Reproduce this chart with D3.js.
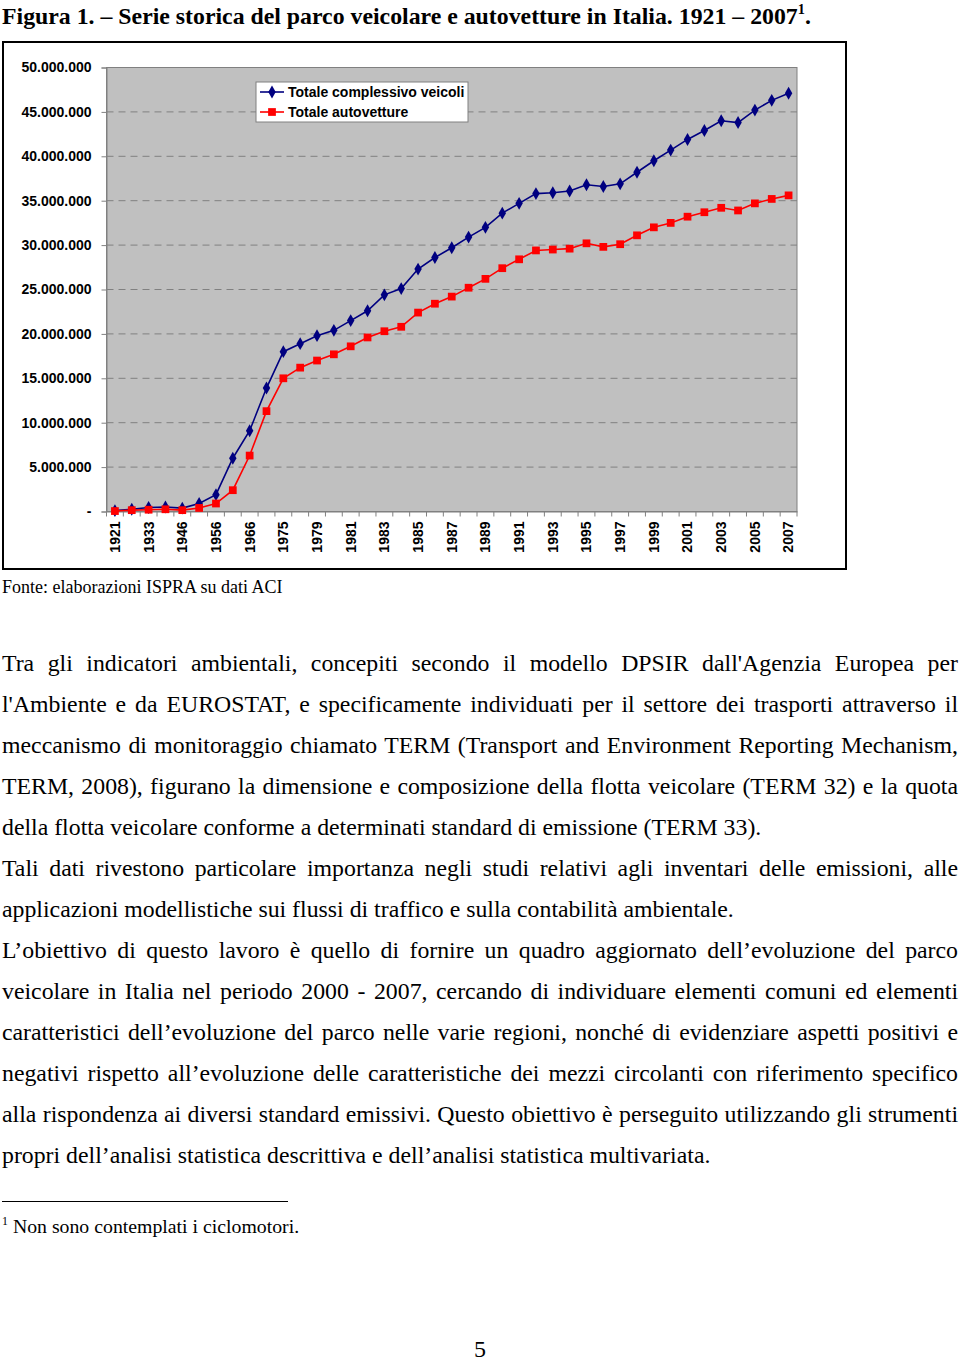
<!DOCTYPE html>
<html>
<head>
<meta charset="utf-8">
<script src="https://cdn.jsdelivr.net/npm/d3@7"></script>
<style>
body { margin: 0; background: #fff; width: 960px; height: 1360px; position: relative; overflow: hidden;
       font-family: "Liberation Serif", "Times New Roman", serif; color: #000; }
.t { position: absolute; white-space: nowrap; }
#title { left: 2px; top: 2px; font-size: 23.8px; line-height: 28px; font-weight: bold; }
#title sup, #foot sup { font-size: 60%; line-height: 0; vertical-align: 0.7em; }
#fonte { left: 2px; top: 576px; font-size: 18px; line-height: 22px; }
.line { position: absolute; left: 2px; width: 956px; font-size: 23.8px; line-height: 28px; white-space: nowrap; }
.just { text-align: justify; text-align-last: justify; white-space: normal; }
#rule { position: absolute; left: 2px; top: 1201px; width: 286px; border-top: 1px solid #000; }
#foot { left: 2px; top: 1214px; font-size: 19.8px; line-height: 24px; }
#page { left: 474px; top: 1339px; font-size: 24px; line-height: 20px; }
svg { position: absolute; left: 0; top: 0; }
svg text { font-family: "Liberation Sans", Arial, sans-serif; font-weight: bold; font-size: 14px; }
</style>
</head>
<body>
<div id="title" class="t">Figura 1. – Serie storica del parco veicolare e autovetture in Italia. 1921 – 2007<sup>1</sup>.</div>
<div id="fonte" class="t">Fonte: elaborazioni ISPRA su dati ACI</div>
<div id="rule"></div>
<div id="foot" class="t"><sup>1</sup> Non sono contemplati i ciclomotori.</div>
<div id="page" class="t">5</div>
<script>
//Data
var years = ["1921", "1927", "1933", "1939", "1946", "1951", "1956", "1961", "1966", "1970",
    "1975", "1977", "1979", "1980", "1981", "1982", "1983", "1984", "1985", "1986",
    "1987", "1988", "1989", "1990", "1991", "1992", "1993", "1994", "1995", "1996",
    "1997", "1998", "1999", "2000", "2001", "2002", "2003", "2004", "2005", "2006", "2007"];

var totaleVeicoli = [100000, 250000, 450000, 500000, 380000, 900000, 1900000, 6000000, 9100000, 13900000,
    18000000, 18900000, 19800000, 20400000, 21500000, 22600000, 24400000, 25100000, 27300000, 28600000,
    29700000, 30900000, 32000000, 33600000, 34700000, 35800000, 35900000, 36100000, 36800000, 36600000,
    36900000, 38200000, 39500000, 40700000, 41900000, 42900000, 44000000, 43800000, 45200000, 46300000, 47100000];

var totaleAuto = [50000, 150000, 200000, 250000, 150000, 400000, 900000, 2400000, 6300000, 11300000,
    15000000, 16200000, 17000000, 17700000, 18600000, 19600000, 20300000, 20800000, 22400000, 23400000,
    24200000, 25200000, 26200000, 27400000, 28400000, 29400000, 29500000, 29600000, 30200000, 29800000,
    30100000, 31100000, 32000000, 32500000, 33200000, 33700000, 34200000, 33900000, 34700000, 35200000, 35600000];

var seriesNames = ["Totale complessivo veicoli", "Totale autovetture"];
var seriesColors = ["#000080", "#ff0000"];
var yTicks = [0, 5000000, 10000000, 15000000, 20000000, 25000000, 30000000, 35000000, 40000000, 45000000, 50000000];

var paragraphLines = [
    ["Tra gli indicatori ambientali, concepiti secondo il modello DPSIR dall'Agenzia Europea per", true],
    ["l'Ambiente e da EUROSTAT, e specificamente individuati per il settore dei trasporti attraverso il", true],
    ["meccanismo di monitoraggio chiamato TERM (Transport and Environment Reporting Mechanism,", true],
    ["TERM, 2008), figurano la dimensione e composizione della flotta veicolare (TERM 32) e la quota", true],
    ["della flotta veicolare conforme a determinati standard di emissione (TERM 33).", false],
    ["Tali dati rivestono particolare importanza negli studi relativi agli inventari delle emissioni, alle", true],
    ["applicazioni modellistiche sui flussi di traffico e sulla contabilità ambientale.", false],
    ["L’obiettivo di questo lavoro è quello di fornire un quadro aggiornato dell’evoluzione del parco", true],
    ["veicolare in Italia nel periodo 2000 - 2007, cercando di individuare elementi comuni ed elementi", true],
    ["caratteristici dell’evoluzione del parco nelle varie regioni, nonché di evidenziare aspetti positivi e", true],
    ["negativi rispetto all’evoluzione delle caratteristiche dei mezzi circolanti con riferimento specifico", true],
    ["alla rispondenza ai diversi standard emissivi. Questo obiettivo è perseguito utilizzando gli strumenti", true],
    ["propri dell’analisi statistica descrittiva e dell’analisi statistica multivariata.", false]
];

//Body text
d3.select("body").selectAll("div.line")
    .data(paragraphLines)
    .enter()
    .append("div")
    .attr("class", d => d[1] ? "line just" : "line")
    .style("top", (d, i) => (649 + i * 41) + "px")
    .text(d => d[0]);

//Chart
var w = 960, h = 600;
var plotLeft = 106.5, plotRight = 797, plotTop = 67.5, plotBottom = 511.5;

var svg = d3.select("body").append("svg")
    .attr("width", w)
    .attr("height", h);

svg.append("rect")
    .attr("x", 3).attr("y", 42)
    .attr("width", 843).attr("height", 527)
    .attr("fill", "#fff")
    .attr("stroke", "#000")
    .attr("stroke-width", 2);

var xScale = d3.scaleBand()
    .domain(years)
    .range([plotLeft, plotRight]);

var yScale = d3.scaleLinear()
    .domain([0, 50000000])
    .range([plotBottom, plotTop]);

var itFormat = d3.formatLocale({decimal: ",", thousands: ".", grouping: [3], currency: ["€", ""]}).format(",.0f");

svg.append("rect")
    .attr("x", plotLeft).attr("y", plotTop)
    .attr("width", plotRight - plotLeft).attr("height", plotBottom - plotTop)
    .attr("fill", "#c0c0c0")
    .attr("stroke", "#808080");

//Gridlines
svg.selectAll("line.grid")
    .data(yTicks.slice(1, -1))
    .enter()
    .append("line")
    .attr("class", "grid")
    .attr("x1", plotLeft).attr("x2", plotRight)
    .attr("y1", d => yScale(d)).attr("y2", d => yScale(d))
    .attr("stroke", "#808080")
    .attr("stroke-dasharray", "7,5");

//Y axis
var yAxis = svg.append("g")
    .attr("transform", "translate(" + plotLeft + ",0)")
    .call(d3.axisLeft(yScale).tickValues(yTicks).tickSize(5).tickPadding(10)
        .tickFormat(d => d === 0 ? "-" : itFormat(d)));
yAxis.select(".domain").attr("stroke", "#808080");
yAxis.selectAll(".tick line").attr("stroke", "#808080");
yAxis.selectAll("text").attr("fill", "#000").style("font-size", "14px");

//X axis
var xAxis = svg.append("g")
    .attr("transform", "translate(0," + plotBottom + ")")
    .call(d3.axisBottom(xScale).tickSize(0).tickPadding(0)
        .tickFormat((d, i) => i % 2 === 0 ? d : ""));
xAxis.select(".domain").attr("stroke", "#808080");
xAxis.selectAll("text")
    .attr("fill", "#000")
    .attr("transform", "rotate(-90)")
    .attr("text-anchor", "end")
    .attr("x", -10)
    .attr("y", 0)
    .attr("dy", "0.35em")
    .style("font-size", "14px");

//Ticks between categories
svg.selectAll("line.xtick")
    .data(years.concat(["end"]))
    .enter()
    .append("line")
    .attr("class", "xtick")
    .attr("x1", (d, i) => plotLeft + i * xScale.step())
    .attr("x2", (d, i) => plotLeft + i * xScale.step())
    .attr("y1", plotBottom).attr("y2", plotBottom + 5)
    .attr("stroke", "#808080");

//Lines and markers
var series = [totaleVeicoli, totaleAuto];
var line = d3.line()
    .x((d, i) => xScale(years[i]) + xScale.bandwidth() / 2)
    .y(d => yScale(d));

series.forEach(function(data, s) {
    svg.append("path")
        .datum(data)
        .attr("d", line)
        .attr("fill", "none")
        .attr("stroke", seriesColors[s])
        .attr("stroke-width", 1.6);

    var sym = s === 0 ? d3.symbolDiamond : d3.symbolSquare;
    svg.selectAll("path.m" + s)
        .data(data)
        .enter()
        .append("path")
        .attr("class", "m" + s)
        .attr("d", d3.symbol().type(sym).size(s === 0 ? 48 : 60))
        .attr("transform", (d, i) => "translate(" + (xScale(years[i]) + xScale.bandwidth() / 2) + "," + yScale(d) + ")")
        .attr("fill", seriesColors[s]);
});

//Legend
var legend = svg.append("g").attr("transform", "translate(256,82)");
legend.append("rect")
    .attr("width", 212).attr("height", 40)
    .attr("fill", "#fff")
    .attr("stroke", "#808080");
seriesNames.forEach(function(name, s) {
    var g = legend.append("g").attr("transform", "translate(0," + (10 + s * 20) + ")");
    g.append("line")
        .attr("x1", 4).attr("x2", 28)
        .attr("stroke", seriesColors[s])
        .attr("stroke-width", 1.6);
    g.append("path")
        .attr("d", d3.symbol().type(s === 0 ? d3.symbolDiamond : d3.symbolSquare).size(s === 0 ? 48 : 60))
        .attr("transform", "translate(16,0)")
        .attr("fill", seriesColors[s]);
    g.append("text")
        .attr("x", 32)
        .attr("dy", "0.35em")
        .text(name);
});
</script>
</body>
</html>
